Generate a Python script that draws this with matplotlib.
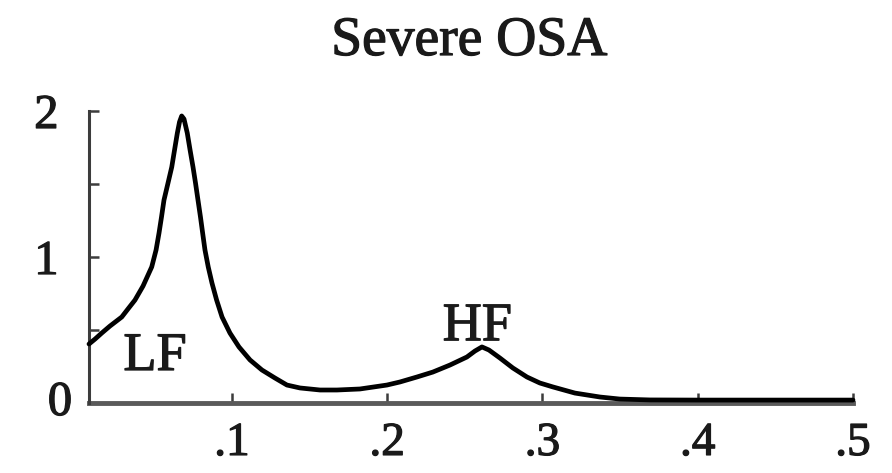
import matplotlib
matplotlib.use("Agg")
import matplotlib.pyplot as plt
import matplotlib.patheffects as pe

plt.rcParams["font.family"] = ["Liberation Serif", "DejaVu Serif"]

# Power spectral density of heart-rate variability (Hz vs. power)
freq = [0.0079, 0.0118, 0.0161, 0.0214, 0.0290, 0.0330, 0.0375, 0.0427,
        0.0483, 0.0511, 0.0530, 0.0546, 0.0562, 0.0588, 0.0612, 0.0630,
        0.0648, 0.0662, 0.0676, 0.0691, 0.0712, 0.0730, 0.0749, 0.0765,
        0.0781, 0.0797, 0.0811, 0.0826, 0.0847, 0.0871, 0.0901, 0.0936,
        0.0987, 0.1045, 0.1116, 0.1193, 0.1277, 0.1354, 0.1438, 0.1567,
        0.1676, 0.1824, 0.1998, 0.2082, 0.2191, 0.2294, 0.2404, 0.2513,
        0.2565, 0.2610, 0.2655, 0.2726, 0.2809, 0.2900, 0.2983, 0.3067,
        0.3209, 0.3370, 0.3498, 0.3692, 0.4000, 0.4500, 0.5000]
power = [0.404, 0.438, 0.479, 0.527, 0.589, 0.644, 0.705, 0.801,
         0.932, 1.048, 1.164, 1.274, 1.390, 1.507, 1.616, 1.733,
         1.849, 1.925, 1.966, 1.945, 1.849, 1.733, 1.616, 1.507,
         1.390, 1.274, 1.164, 1.048, 0.932, 0.822, 0.705, 0.589,
         0.479, 0.384, 0.295, 0.226, 0.171, 0.123, 0.103, 0.089,
         0.089, 0.096, 0.123, 0.144, 0.178, 0.212, 0.260, 0.315,
         0.356, 0.384, 0.363, 0.308, 0.240, 0.178, 0.137, 0.110,
         0.068, 0.041, 0.027, 0.021, 0.020, 0.020, 0.020]

title = "Severe OSA"
x_ticks = [0.1, 0.2, 0.3, 0.4, 0.5]
x_tick_labels = [".1", ".2", ".3", ".4", ".5"]
y_ticks = [0.5, 1.0, 1.5, 2.0]
y_tick_labels = ["", "1", "", "2"]
bands = [("LF", 0.0504, 0.226), ("HF", 0.258, 0.43)]

W, H = 892, 473
fig = plt.figure(figsize=(W / 100, H / 100), dpi=100)
ax = fig.add_axes([89 / W, 70 / H, (853 - 89) / W, (403 - 111) / H])

ax.plot(freq, power, color="black", lw=3.4, solid_capstyle="round",
        solid_joinstyle="round", clip_on=False, zorder=3)

ax.set_xlim(0.0079, 0.5)
ax.set_ylim(0, 2)

for side in ("top", "right"):
    ax.spines[side].set_visible(False)
ax.spines["left"].set_color("#3c3c3c")
ax.spines["left"].set_linewidth(2.2)
ax.spines["bottom"].set_color("#5a5a5a")
ax.spines["bottom"].set_linewidth(3.5)
ax.spines["bottom"].set_zorder(2)

# slightly heavier serif text
heavy = [pe.withStroke(linewidth=0.9, foreground="#1a1a1a")]
text_color = "#1a1a1a"

ax.set_xticks(x_ticks)
ax.set_xticklabels(x_tick_labels)
ax.set_yticks(y_ticks)
ax.set_yticklabels(y_tick_labels)
ax.tick_params(axis="x", direction="in", length=7.5, width=1.8,
               color="#3c3c3c", labelsize=34, pad=14, labelcolor=text_color)
ax.tick_params(axis="y", direction="in", length=7.5, width=1.8,
               color="#3c3c3c", labelsize=35, pad=22, labelcolor=text_color)
for lbl in ax.get_xticklabels() + ax.get_yticklabels():
    lbl.set_path_effects(heavy)

# "0" label sits at the level of the frequency axis
ax.text(-0.022, 0.0, "0", transform=ax.get_yaxis_transform(),
        ha="right", va="center", fontsize=35, color=text_color,
        path_effects=heavy)

for name, fx, fy in bands:
    ax.text(fx, fy, name, ha="center", va="baseline", fontsize=39,
            color=text_color, path_effects=heavy)

fig.text(469 / W, 1 - 55 / H, title, ha="center", va="baseline",
         fontsize=40, color=text_color, path_effects=heavy)

fig.savefig("out.png", dpi=100)
